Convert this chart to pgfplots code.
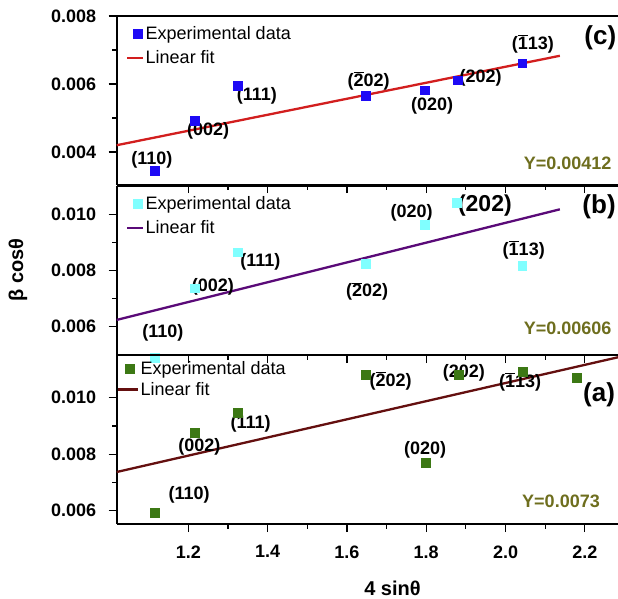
\documentclass[border=0pt]{standalone}
\usepackage{pgfplots}
\pgfplotsset{compat=1.18}
\usepackage{fontspec}
\setmainfont{Liberation Sans}
\newcommand{\ob}[1]{$\overline{\mbox{#1}}$}
\newcommand{\lf}{\fontsize{18}{20}\selectfont\bfseries}
\definecolor{cblue}{RGB}{30,10,245}
\definecolor{ccyan}{RGB}{128,255,255}
\definecolor{cgreen}{RGB}{60,120,20}
\definecolor{cred}{RGB}{210,30,30}
\definecolor{cpurple}{RGB}{90,10,120}
\definecolor{cmaroon}{RGB}{100,15,15}
\definecolor{colive}{RGB}{110,110,30}
\pgfplotsset{
  panel/.style={
    scale only axis, width=501.3pt, height=169pt,
    xmin=1.0194, xmax=2.2837,
    separate axis lines,
    axis x line*=box, axis y line*=left,
    axis line style={line width=1.8pt},
    tick style={line width=1.2pt, black},
    tick align=outside,
    xtick={1.2,1.4,1.6,1.8,2.0,2.2},
    minor x tick num=1, minor y tick num=1,
    major tick length=8pt, minor tick length=4.5pt,
    xtick pos=left, ytick pos=left,
    tick label style={font=\fontsize{18}{18}\selectfont\bfseries},
    /pgf/number format/assume math mode=true,
    yticklabel style={xshift=-9pt, /pgf/number format/fixed, /pgf/number format/fixed zerofill, /pgf/number format/precision=3},
    xticklabel style={yshift=-10pt, /pgf/number format/fixed, /pgf/number format/fixed zerofill, /pgf/number format/precision=1},
    scaled y ticks=false,
    clip=false,
    legend style={at={(0.018,0.95)}, anchor=north west, draw=none, fill=none,
      font=\fontsize{18}{20}\selectfont, inner sep=0pt, row sep=7pt,
      nodes={inner sep=1.5pt}},
    legend cell align=left,
  },
  expt/.style={only marks, mark=square*, mark size=4.4pt,
    legend image code/.code={\path (0pt,0pt) (16pt,0pt); \draw[##1] plot coordinates {(11pt,0pt)};}},
  fit/.style={line width=2.3pt, no marks,
    legend image code/.code={\draw[##1] (0pt,0pt) -- (16pt,0pt);}},
  exptA/.style={only marks, mark=square*, mark size=4.4pt,
    legend image code/.code={\path (0pt,0pt) (20pt,0pt); \draw[##1] plot coordinates {(12pt,0pt)};}},
  fitA/.style={line width=2.3pt, no marks,
    legend image code/.code={\draw[##1] (0pt,0pt) -- (20pt,0pt);}},
}
\begin{document}
\begin{tikzpicture}[x=1pt,y=1pt]
\useasboundingbox (0,0) rectangle (618,-598);
% (c)
\begin{axis}[panel, at={(116.7pt,-16pt)}, anchor=north west,
  ymin=0.00303, ymax=0.008, ytick={0.004,0.006,0.008}, xticklabels={}]
\addplot[expt, color=cblue] coordinates {
(1.116,0.00346) (1.217,0.00493) (1.324,0.00594) (1.648,0.005645)
(1.797,0.00582) (1.879,0.00611) (2.042,0.00661)};
\addlegendentry{Experimental data}
\addplot[fit, color=cred] coordinates {(1.0194,0.0042) (2.137,0.00683)};
\addlegendentry{Linear fit}
\node[font=\lf] at (axis cs:1.108,0.00377) {(110)};
\node[font=\lf] at (axis cs:1.250,0.00461) {(002)};
\node[font=\lf] at (axis cs:1.373,0.005645) {(111)};
\node[font=\lf] at (axis cs:1.655,0.00609) {(\ob{2}02)};
\node[font=\lf] at (axis cs:1.815,0.005349) {(020)};
\node[font=\lf] at (axis cs:1.937,0.006189) {(202)};
\node[font=\lf] at (axis cs:2.069,0.007175) {(\ob{1}13)};
\node[font=\fontsize{26}{26}\selectfont\bfseries] at (axis cs:2.239,0.007373) {(c)};
\node[font=\lf, text=colive, anchor=east] at (axis cs:2.276,0.003675) {Y=0.00412};
\end{axis}
% (b)
\begin{axis}[panel, at={(116.7pt,-186pt)}, anchor=north west,
  ymin=0.00499, ymax=0.01101, ytick={0.006,0.008,0.010}, xticklabels={}]
\addplot[expt, color=ccyan] coordinates {
(1.116,0.00489) (1.217,0.00737) (1.324,0.00865) (1.648,0.00823)
(1.797,0.00964) (1.877,0.01041) (2.042,0.00818)};
\addlegendentry{Experimental data}
\addplot[fit, color=cpurple] coordinates {(1.0194,0.00624) (2.137,0.01018)};
\addlegendentry{Linear fit}
\node[font=\lf] at (axis cs:1.1357,0.005765) {(110)};
\node[font=\lf] at (axis cs:1.262,0.00741) {(002)};
\node[font=\lf] at (axis cs:1.382,0.00832) {(111)};
\node[font=\lf] at (axis cs:1.651,0.007253) {(\ob{2}02)};
\node[font=\lf] at (axis cs:1.7634,0.01004) {(020)};
\node[font=\fontsize{23}{23}\selectfont\bfseries] at (axis cs:1.948,0.010331) {(202)};
\node[font=\lf] at (axis cs:2.046,0.008737) {(\ob{1}13)};
\node[font=\fontsize{26}{26}\selectfont\bfseries] at (axis cs:2.236,0.01027) {(b)};
\node[font=\lf, text=colive, anchor=east] at (axis cs:2.276,0.00594) {Y=0.00606};
\end{axis}
% (a)
\begin{axis}[panel, at={(116.7pt,-355pt)}, anchor=north west,
  ymin=0.00553, ymax=0.01151, ytick={0.006,0.008,0.010},
  legend style={at={(0.0,0.97)}, row sep=3pt}]
\addplot[exptA, color=cgreen] coordinates {
(1.116,0.00594) (1.217,0.00875) (1.324,0.00947) (1.647,0.0108)
(1.799,0.00769) (1.881,0.0108) (2.043,0.01093) (2.180,0.01071)};
\addlegendentry{Experimental data}
\addplot[fitA, color=cmaroon] coordinates {(1.0194,0.00737) (2.2837,0.01143)};
\addlegendentry{Linear fit}
\node[font=\lf] at (axis cs:1.2018,0.006556) {(110)};
\node[font=\lf] at (axis cs:1.228,0.00826) {(002)};
\node[font=\lf] at (axis cs:1.357,0.00907) {(111)};
\node[font=\lf] at (axis cs:1.710,0.0106) {(\ob{2}02)};
\node[font=\lf] at (axis cs:1.895,0.010885) {(202)};
\node[font=\lf] at (axis cs:2.037,0.010566) {(\ob{1}13)};
\node[font=\lf] at (axis cs:1.797,0.00814) {(020)};
\node[font=\fontsize{26}{26}\selectfont\bfseries] at (axis cs:2.236,0.0101) {(a)};
\node[font=\lf, text=colive, anchor=east] at (axis cs:2.2467,0.00632) {Y=0.0073};
\end{axis}
\node[rotate=90, font=\fontsize{20}{20}\selectfont\bfseries] at (18,-270) {β cosθ};
\node[font=\fontsize{20}{20}\selectfont\bfseries] at (392.5,-588) {4 sinθ};
\end{tikzpicture}
\end{document}
